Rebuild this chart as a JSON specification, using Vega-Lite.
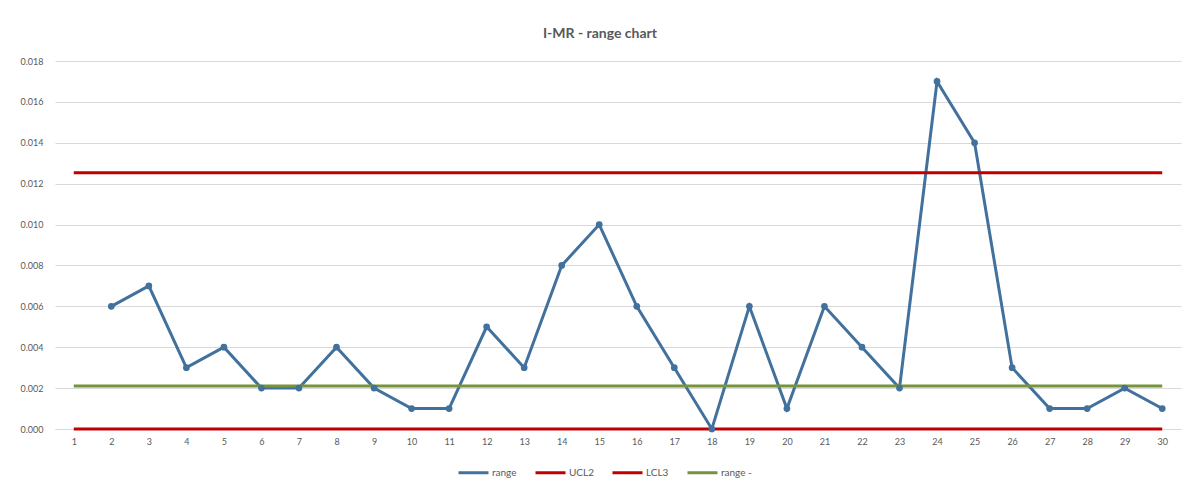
{
  "$schema": "https://vega.github.io/schema/vega-lite/v6.json",
  "width": 1126,
  "height": 368,
  "autosize": {"type": "none"},
  "padding": {"left": 55, "top": 61, "right": 9, "bottom": 62},
  "background": "white",
  "title": {
    "text": "I-MR - range chart",
    "font": "Lato",
    "fontSize": 14,
    "fontWeight": "bold",
    "color": "#595959",
    "anchor": "middle",
    "offset": 16,
    "dx": -18
  },
  "config": {
    "view": {"stroke": null},
    "font": "Lato"
  },
  "data": {
    "values": [
      {"n": 2, "series": "range", "v": 0.006},
      {"n": 3, "series": "range", "v": 0.007},
      {"n": 4, "series": "range", "v": 0.003},
      {"n": 5, "series": "range", "v": 0.004},
      {"n": 6, "series": "range", "v": 0.002},
      {"n": 7, "series": "range", "v": 0.002},
      {"n": 8, "series": "range", "v": 0.004},
      {"n": 9, "series": "range", "v": 0.002},
      {"n": 10, "series": "range", "v": 0.001},
      {"n": 11, "series": "range", "v": 0.001},
      {"n": 12, "series": "range", "v": 0.005},
      {"n": 13, "series": "range", "v": 0.003},
      {"n": 14, "series": "range", "v": 0.008},
      {"n": 15, "series": "range", "v": 0.010},
      {"n": 16, "series": "range", "v": 0.006},
      {"n": 17, "series": "range", "v": 0.003},
      {"n": 18, "series": "range", "v": 0.000},
      {"n": 19, "series": "range", "v": 0.006},
      {"n": 20, "series": "range", "v": 0.001},
      {"n": 21, "series": "range", "v": 0.006},
      {"n": 22, "series": "range", "v": 0.004},
      {"n": 23, "series": "range", "v": 0.002},
      {"n": 24, "series": "range", "v": 0.017},
      {"n": 25, "series": "range", "v": 0.014},
      {"n": 26, "series": "range", "v": 0.003},
      {"n": 27, "series": "range", "v": 0.001},
      {"n": 28, "series": "range", "v": 0.001},
      {"n": 29, "series": "range", "v": 0.002},
      {"n": 30, "series": "range", "v": 0.001},
      {"n": 1, "series": "UCL2", "v": 0.01253},
      {"n": 30, "series": "UCL2", "v": 0.01253},
      {"n": 1, "series": "LCL3", "v": 0},
      {"n": 30, "series": "LCL3", "v": 0},
      {"n": 1, "series": "range -", "v": 0.0021},
      {"n": 30, "series": "range -", "v": 0.0021}
    ]
  },
  "encoding": {
    "x": {
      "field": "n",
      "type": "ordinal",
      "scale": {"type": "point", "padding": 0.5},
      "axis": {
        "title": null,
        "labelAngle": 0,
        "labelColor": "#595959",
        "labelFontSize": 9,
        "labelPadding": 8,
        "ticks": false,
        "domain": true,
        "domainColor": "#D9D9D9",
        "grid": false
      }
    },
    "y": {
      "field": "v",
      "type": "quantitative",
      "scale": {"domain": [0, 0.018], "nice": false, "zero": true},
      "axis": {
        "title": null,
        "values": [0, 0.002, 0.004, 0.006, 0.008, 0.01, 0.012, 0.014, 0.016, 0.018],
        "format": ".3f",
        "labelColor": "#595959",
        "labelFontSize": 9,
        "labelPadding": 12,
        "ticks": false,
        "domain": false,
        "grid": true,
        "gridColor": "#D9D9D9",
        "gridWidth": 1
      }
    },
    "color": {
      "field": "series",
      "type": "nominal",
      "scale": {
        "domain": ["range", "UCL2", "LCL3", "range -"],
        "range": ["#41719C", "#C00000", "#C00000", "#77933C"]
      },
      "legend": {
        "title": null,
        "orient": "none",
        "direction": "horizontal",
        "legendX": 402,
        "legendY": 395,
        "symbolType": "stroke",
        "symbolStrokeWidth": 3,
        "symbolSize": 900,
        "labelColor": "#595959",
        "labelFontSize": 10,
        "labelOffset": 2,
        "columnPadding": 12
      }
    }
  },
  "layer": [
    {
      "mark": {"type": "line"},
      "encoding": {
        "strokeWidth": {
          "field": "series",
          "type": "nominal",
          "scale": {
            "domain": ["range", "UCL2", "LCL3", "range -"],
            "range": [3, 3, 1.5, 3]
          },
          "legend": null
        }
      }
    },
    {
      "transform": [{"filter": "datum.series === 'range'"}],
      "mark": {"type": "point", "filled": true, "opacity": 1, "size": 45}
    }
  ]
}
